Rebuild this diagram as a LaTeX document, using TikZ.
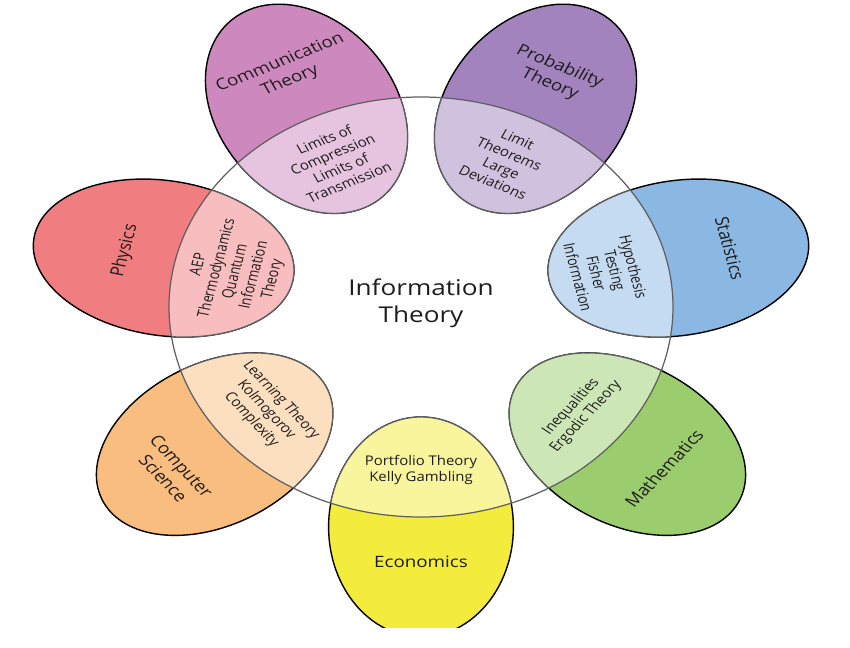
\documentclass[tikz,border=0pt]{standalone}
\usepackage{fontspec}
\setmainfont{Open Sans}
\definecolor{commpink}{RGB}{205,137,190}
\definecolor{probpurple}{RGB}{162,131,190}
\definecolor{statblue}{RGB}{139,184,227}
\definecolor{mathgreen}{RGB}{155,204,110}
\definecolor{econyellow}{RGB}{243,236,60}
\definecolor{csorange}{RGB}{249,190,127}
\definecolor{physred}{RGB}{240,125,127}
\definecolor{linegray}{RGB}{95,95,95}
\definecolor{textgray}{RGB}{30,28,28}
\tikzset{
  petal/.style={draw=black, line width=0.8pt},
  lens/.style={draw=linegray, line width=0.7pt},
  fieldlabel/.style={align=center, text=textgray, inner sep=0pt, font=\fontsize{8.9}{11}\selectfont},
  lenslabel/.style={align=center, text=textgray, inner sep=0pt, font=\fontsize{7.6}{9}\selectfont}
}

\begin{document}
\begin{tikzpicture}[x=0.02cm, y=0.02cm]
        \useasboundingbox (-421,307) rectangle (429,-340);
        \clip (-421,307) rectangle (429,-320);

        \begin{scope}[xscale=1.2, transform shape]
        \draw[petal, fill=econyellow, rotate=270] (220,0) ellipse [x radius=110, y radius=77];
        \draw[petal, fill=mathgreen, rotate=321.43] (220,0) ellipse [x radius=110, y radius=77];
        \draw[petal, fill=statblue, rotate=12.86] (220,0) ellipse [x radius=110, y radius=77];
        \draw[petal, fill=probpurple, rotate=64.29] (220,0) ellipse [x radius=110, y radius=77];
        \draw[petal, fill=commpink, rotate=115.71] (220,0) ellipse [x radius=110, y radius=77];
        \draw[petal, fill=physred, rotate=167.14] (220,0) ellipse [x radius=110, y radius=77];
        \draw[petal, fill=csorange, rotate=218.57] (220,0) ellipse [x radius=110, y radius=77];

        \begin{scope}
          \clip (0,0) circle [radius=210];
          \draw[lens, fill=econyellow!50!white, rotate=270] (220,0) ellipse [x radius=110, y radius=77];
          \draw[lens, fill=mathgreen!50!white, rotate=321.43] (220,0) ellipse [x radius=110, y radius=77];
          \draw[lens, fill=statblue!50!white, rotate=12.86] (220,0) ellipse [x radius=110, y radius=77];
          \draw[lens, fill=probpurple!50!white, rotate=64.29] (220,0) ellipse [x radius=110, y radius=77];
          \draw[lens, fill=commpink!50!white, rotate=115.71] (220,0) ellipse [x radius=110, y radius=77];
          \draw[lens, fill=physred!50!white, rotate=167.14] (220,0) ellipse [x radius=110, y radius=77];
          \draw[lens, fill=csorange!50!white, rotate=218.57] (220,0) ellipse [x radius=110, y radius=77];
        \end{scope}
        \draw[lens] (0,0) circle [radius=210];

        \node[align=center, text=textgray, font=\fontsize{12.4}{15.4}\selectfont] (info) at (0,4) {Information\\Theory};

        \node[fieldlabel] (econ) at (270:255) {Economics};
        \node[fieldlabel, rotate=51.43] (math) at (321.43:259) {Mathematics};
        \node[fieldlabel, rotate=-77.14] (stat) at (12.86:264) {Statistics};
        \node[fieldlabel, rotate=-25.71] (prob) at (64.29:257) {Probability\\Theory};
        \node[fieldlabel, rotate=25.71] (comm) at (115.71:261) {Communication\\Theory};
        \node[fieldlabel, rotate=77.14] (phys) at (167.14:253) {Physics};
        \node[fieldlabel, rotate=-51.43] (cs) at (218.57:265) {Computer\\Science};

        \node[lenslabel, xscale=0.93] (econlens) at (270:163) {Portfolio Theory\\Kelly Gambling};
        \node[lenslabel, rotate=51.43, xscale=0.93] (mathlens) at (321.43:168) {Inequalities\\Ergodic Theory};
        \node[lenslabel, rotate=-77.14, xscale=0.93] (statlens) at (12.86:158) {Hypothesis\\Testing\\Fisher\\Information};
        \node[lenslabel, rotate=-25.71, xscale=0.93] (problens) at (64.29:162) {Limit\\Theorems\\Large\\Deviations};
        \node[lenslabel, rotate=25.71, xscale=0.93] (commlens) at (115.71:162) {Limits of\\Compression\\Limits of\\Transmission};
        \node[lenslabel, rotate=77.14, xscale=0.93] (physlens) at (167.14:158) {AEP\\Thermodynamics\\Quantum\\Information\\Theory};
        \node[lenslabel, rotate=-51.43, xscale=0.93] (cslens) at (218.57:165) {Learning Theory\\Kolmogorov\\Complexity};
        \end{scope}
      \end{tikzpicture}
\end{document}
